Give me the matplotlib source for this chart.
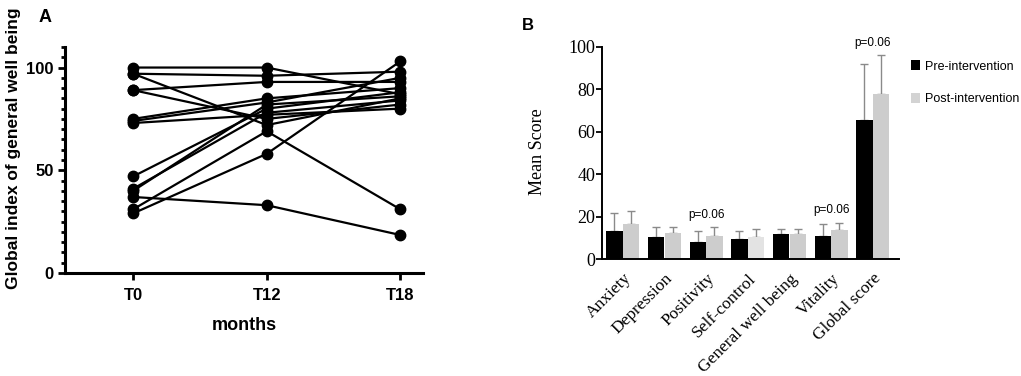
import matplotlib
matplotlib.use("Agg")
import matplotlib.pyplot as plt
from matplotlib.patches import Patch
from matplotlib.ticker import MultipleLocator
import numpy as np

# ---------------- Panel A data ----------------
timepoints = ["T0", "T12", "T18"]
subj01 = [100, 100, 87]
subj02 = [97, 96, 98]
subj03 = [97, 72, 85]
subj04 = [89, 93, 93]
subj05 = [89, 75, 82]
subj06 = [75, 85, 90]
subj07 = [74, 83, 95]
subj08 = [73, 77, 80]
subj09 = [47, 80, 88]
subj10 = [41, 78, 84]
subj11 = [40, 82, 86]
subj12 = [37, 33, 18.5]
subj13 = [31, 69, 31]
subj14 = [29, 58, 103]
subjects = [subj01, subj02, subj03, subj04, subj05, subj06, subj07,
            subj08, subj09, subj10, subj11, subj12, subj13, subj14]

# ---------------- Panel B data ----------------
categories = ["Anxiety", "Depression", "Positivity", "Self-control",
              "General well being", "Vitality", "Global score"]
pre_mean = [13.5, 10.6, 8.3, 9.5, 11.9, 11.1, 65.5]
pre_err = [8.4, 4.7, 5.0, 3.8, 2.4, 5.7, 26.2]
post_mean = [16.6, 12.2, 11.1, 10.5, 11.7, 13.8, 77.6]
post_err = [6.3, 2.8, 3.9, 3.8, 2.6, 3.4, 18.4]
p_labels = ["", "", "p=0.06", "", "", "p=0.06", "p=0.06"]
legend_labels = ["Pre-intervention", "Post-intervention"]

W, H = 1021, 376
fig = plt.figure(figsize=(W / 100, H / 100), dpi=100)

def fx(px):
    return px / W

def fy(py):
    return 1 - py / H

sans = ["Liberation Sans", "DejaVu Sans"]
serif = ["Liberation Serif", "DejaVu Serif"]

# ---------------- Panel A ----------------
axA = fig.add_axes([fx(65), fy(273), fx(423 - 65), (273 - 47) / H])
xpos = np.arange(len(timepoints))
for s in subjects:
    axA.plot(xpos, s, color="black", lw=1.6, marker="o", ms=7.5,
             markerfacecolor="black", markeredgecolor="black", zorder=3)
axA.set_xlim(-0.51, 2.17)
axA.set_ylim(0, 110)
axA.spines["top"].set_visible(False)
axA.spines["right"].set_visible(False)
for sp in ["left", "bottom"]:
    axA.spines[sp].set_linewidth(2.2)
axA.set_xticks(xpos)
axA.set_xticklabels(timepoints, fontfamily=sans, fontweight="bold", fontsize=12)
axA.set_yticks([0, 50, 100])
axA.set_yticklabels(["0", "50", "100"], fontfamily=sans, fontweight="bold", fontsize=12)
axA.yaxis.set_minor_locator(MultipleLocator(5))
axA.tick_params(axis="both", which="major", length=5, width=2.0, pad=3)
axA.tick_params(axis="x", which="major", pad=6)
axA.tick_params(axis="y", which="minor", length=3, width=2.0)
axA.set_xlabel("months", fontfamily=sans, fontweight="bold", fontsize=13, labelpad=10)
axA.set_ylabel("Global index of general well being", fontfamily=sans,
               fontweight="bold", fontsize=12.5)
axA.yaxis.set_label_coords(-0.122, 0.553)
fig.text(fx(45), fy(18), "A", fontfamily=sans, fontweight="bold", fontsize=13,
         ha="center", va="center")

# ---------------- Panel B ----------------
axB = fig.add_axes([fx(602), fy(259.3), fx(899 - 602), (259.3 - 46.7) / H])
xc = np.arange(len(categories))
bw = 0.39
post_colors = ["#cdcdcd"] * len(categories)
post_colors[3] = "#e3e3e3"
axB.bar(xc - 0.2, pre_mean, width=bw, color="black", zorder=2)
axB.bar(xc + 0.2, post_mean, width=bw, color=post_colors, zorder=2)
zeros = np.zeros(len(categories))
axB.errorbar(xc - 0.2, pre_mean, yerr=[zeros, pre_err], fmt="none",
             ecolor="#8a8a8a", elinewidth=1.0, capsize=3, capthick=1.0, zorder=1)
axB.errorbar(xc + 0.2, post_mean, yerr=[zeros, post_err], fmt="none",
             ecolor="#8a8a8a", elinewidth=1.0, capsize=3, capthick=1.0, zorder=1)
for i, lab in enumerate(p_labels):
    if lab:
        top = max(pre_mean[i] + pre_err[i], post_mean[i] + post_err[i])
        axB.text(xc[i], top + 3.0, lab, ha="center", va="bottom",
                 fontfamily=sans, fontsize=8.5)
axB.set_xlim(-0.5, 6.63)
axB.set_ylim(0, 100)
axB.spines["top"].set_visible(False)
axB.spines["right"].set_visible(False)
for sp in ["left", "bottom"]:
    axB.spines[sp].set_linewidth(1.4)
axB.set_yticks(np.arange(0, 101, 20))
axB.set_yticklabels([str(v) for v in range(0, 101, 20)], fontfamily=serif, fontsize=13)
axB.tick_params(axis="y", length=4, width=1.3, pad=1)
axB.tick_params(axis="x", length=0, pad=8)
axB.set_xticks(xc)
axB.set_xticklabels(categories, fontfamily=serif, fontsize=12.5, rotation=45,
                    ha="right", va="top", rotation_mode="anchor")
axB.set_ylabel("Mean Score", fontfamily=serif, fontsize=13)
axB.yaxis.set_label_coords(-0.19, 0.507)
fig.text(fx(528), fy(26), "B", fontfamily=sans, fontweight="bold", fontsize=12,
         ha="center", va="center")

handles = [Patch(facecolor="black", edgecolor="none"),
           Patch(facecolor="#d3d3d3", edgecolor="none")]
fig.legend(handles, legend_labels, loc="upper left",
           bbox_to_anchor=(fx(911), fy(60)), frameon=False,
           prop={"family": sans, "size": 9}, handlelength=0.7,
           handleheight=0.9, handletextpad=0.4, labelspacing=1.6,
           borderaxespad=0, borderpad=0)

fig.savefig("out.png", dpi=100)
